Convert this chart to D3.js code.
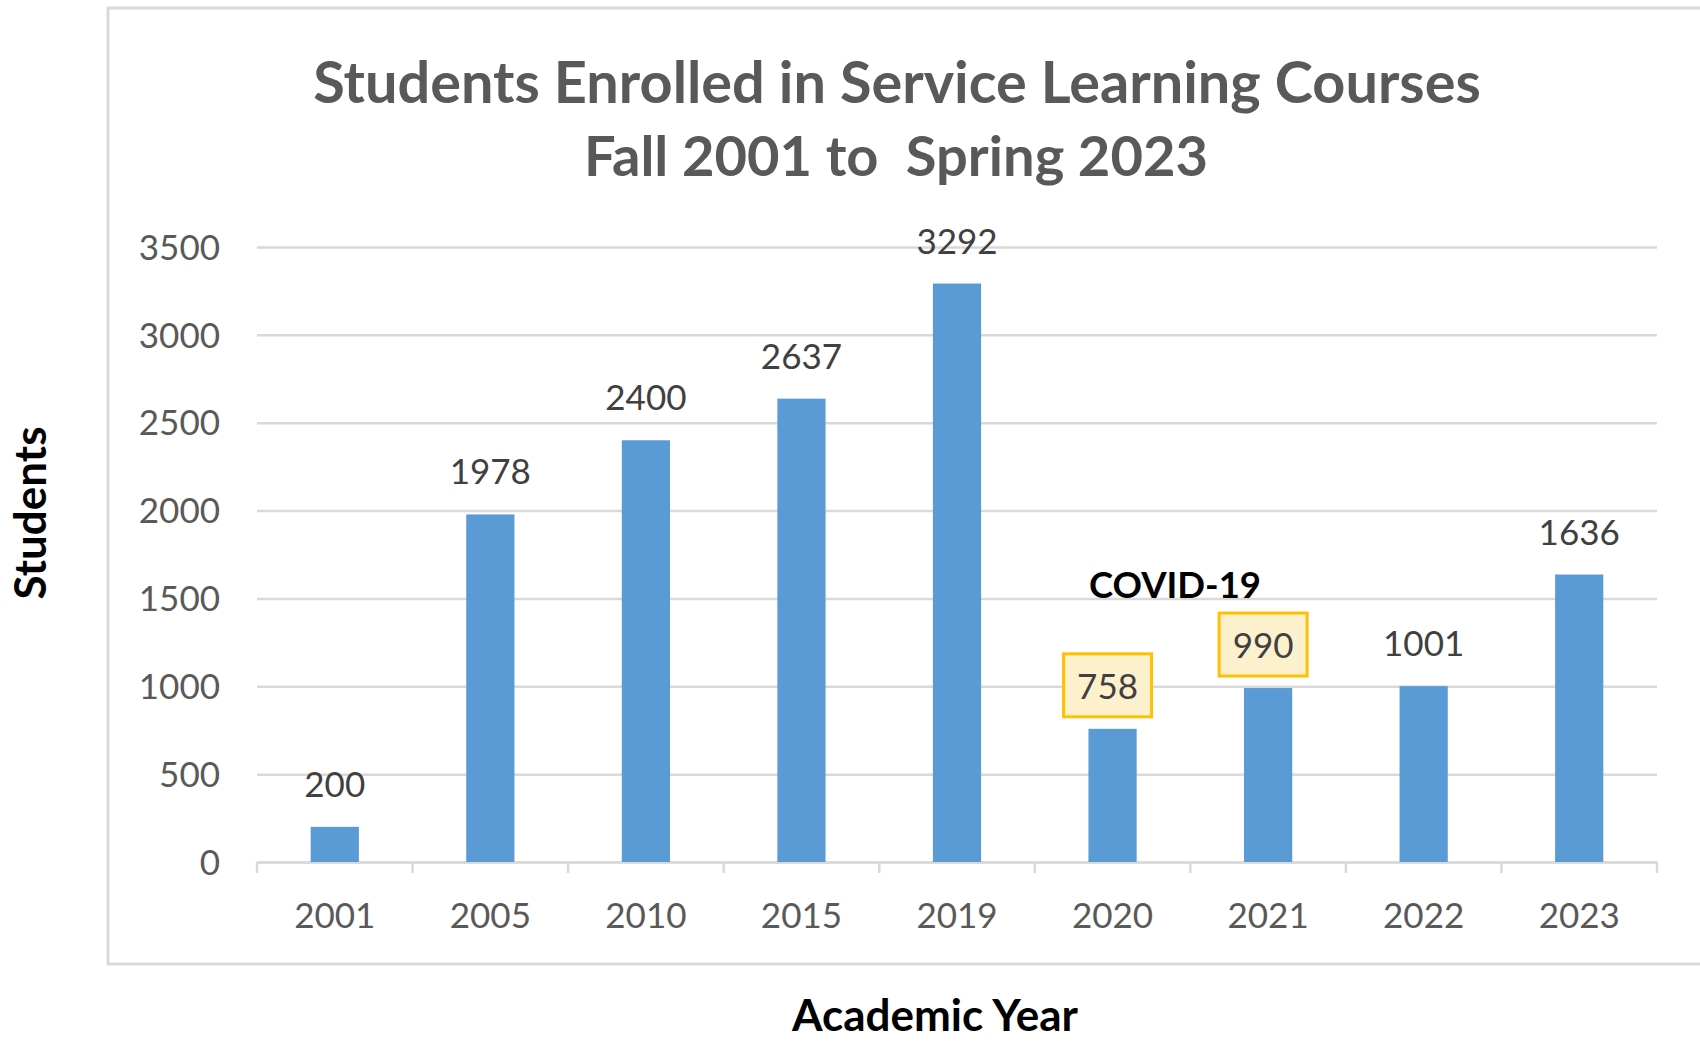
<!DOCTYPE html>
<html>
<head>
<meta charset="utf-8">
<script src="https://cdn.jsdelivr.net/npm/d3@7"></script>
<style>
  body { margin: 0; background: #fff; }
  svg { display: block; font-family: Lato, "Open Sans", sans-serif; }
</style>
</head>
<body>
<svg id="chart" width="1700" height="1043"></svg>
<script>
// chart data
var years = ['2001', '2005', '2010', '2015', '2019', '2020', '2021', '2022', '2023'];
var students = [200, 1978, 2400, 2637, 3292, 758, 990, 1001, 1636];
var yTicks = [0, 500, 1000, 1500, 2000, 2500, 3000, 3500];
var covidYears = ['2020', '2021'];

(function() {
    var data = years.map(function(y, i) { return {year: y, value: students[i]}; });

    var svg = d3.select('#chart');
    var plotLeft = 257, plotRight = 1657, plotTop = 247, plotBottom = 862;

    // outer chart frame (runs off the right edge like the source)
    svg.append('rect')
        .attr('x', 108).attr('y', 8)
        .attr('width', 1610).attr('height', 956)
        .attr('fill', 'none')
        .attr('stroke', '#d9d9d9')
        .attr('stroke-width', 3);

    var x = d3.scaleBand()
        .domain(years)
        .range([plotLeft, plotRight])
        .paddingInner(0.69)
        .paddingOuter(0.345);

    var y = d3.scaleLinear()
        .domain([0, 3500])
        .range([plotBottom, plotTop]);

    // gridlines + y labels
    var yAxis = svg.append('g')
        .attr('transform', 'translate(' + plotLeft + ',0)')
        .call(d3.axisLeft(y)
            .tickValues(yTicks)
            .tickFormat(d3.format('d'))
            .tickSize(-(plotRight - plotLeft))
            .tickPadding(37));
    yAxis.attr('font-family', null).attr('font-size', null);
    yAxis.select('.domain').remove();
    yAxis.selectAll('line').attr('stroke', '#d9d9d9').attr('stroke-width', 2.5);
    yAxis.selectAll('text')
        .attr('fill', '#595959')
        .style('font-size', '35px')
        .attr('dy', '0.35em');

    // x axis line with ticks on the category boundaries
    var xAxis = svg.append('g')
        .attr('transform', 'translate(0,' + plotBottom + ')')
        .call(d3.axisBottom(x).tickSize(0).tickPadding(41));
    xAxis.attr('font-family', null).attr('font-size', null);
    xAxis.select('.domain').attr('stroke', '#d9d9d9').attr('stroke-width', 2.5);
    xAxis.selectAll('text')
        .attr('fill', '#595959')
        .style('font-size', '35px')
        .attr('dy', '0.71em');

    var bounds = d3.range(years.length + 1).map(function(i) { return plotLeft + i * x.step(); });
    xAxis.selectAll('line.bound')
        .data(bounds)
        .enter().append('line')
        .attr('class', 'bound')
        .attr('x1', function(d) { return d; })
        .attr('x2', function(d) { return d; })
        .attr('y1', 0).attr('y2', 11)
        .attr('stroke', '#d9d9d9')
        .attr('stroke-width', 2.5);

    // bars
    svg.append('g').selectAll('rect')
        .data(data)
        .enter().append('rect')
        .attr('x', function(d) { return x(d.year); })
        .attr('y', function(d) { return y(d.value); })
        .attr('width', x.bandwidth())
        .attr('height', function(d) { return y(0) - y(d.value); })
        .attr('fill', '#5b9bd5');

    // callout boxes for the covid years
    var labels = svg.append('g');
    labels.selectAll('rect')
        .data(data.filter(function(d) { return covidYears.indexOf(d.year) >= 0; }))
        .enter().append('rect')
        .attr('x', function(d) { return x(d.year) + x.bandwidth() / 2 - 49; })
        .attr('y', function(d) { return y(d.value) - 30 - 45; })
        .attr('width', 88)
        .attr('height', 63)
        .attr('fill', '#fdf0cd')
        .attr('stroke', '#ffc000')
        .attr('stroke-width', 3);

    labels.selectAll('text')
        .data(data)
        .enter().append('text')
        .attr('x', function(d) {
            var c = x(d.year) + x.bandwidth() / 2;
            return covidYears.indexOf(d.year) >= 0 ? c - 5 : c;
        })
        .attr('y', function(d) { return y(d.value) - 30; })
        .attr('text-anchor', 'middle')
        .attr('fill', '#404040')
        .style('font-size', '35px')
        .text(function(d) { return d.value; });

    svg.append('text')
        .attr('x', 1175).attr('y', 598)
        .attr('text-anchor', 'middle')
        .attr('fill', '#000')
        .style('font-size', '36.5px')
        .style('font-weight', 'bold')
        .text('COVID-19');

    // fit a text element to a target width by adjusting font size
    function fitWidth(sel, w) {
        var cur = sel.node().getComputedTextLength();
        var fs = parseFloat(sel.style('font-size'));
        sel.style('font-size', (fs * w / cur) + 'px');
    }

    var t1 = svg.append('text')
        .attr('x', 897).attr('y', 103)
        .attr('text-anchor', 'middle')
        .attr('fill', '#595959')
        .style('font-size', '56px').style('font-weight', 'bold')
        .text('Students Enrolled in Service Learning Courses');
    fitWidth(t1, 1168);

    var t2 = svg.append('text')
        .attr('x', 896).attr('y', 176)
        .attr('text-anchor', 'middle')
        .attr('fill', '#595959')
        .style('font-size', '56px').style('font-weight', 'bold')
        .style('white-space', 'pre')
        .text('Fall 2001 to  Spring 2023');
    fitWidth(t2, 624);

    svg.append('text')
        .attr('transform', 'translate(46,513) rotate(-90)')
        .attr('text-anchor', 'middle')
        .attr('fill', '#000')
        .style('font-size', '44px').style('font-weight', 'bold')
        .text('Students');

    svg.append('text')
        .attr('x', 935).attr('y', 1031)
        .attr('text-anchor', 'middle')
        .attr('fill', '#000')
        .style('font-size', '44px').style('font-weight', 'bold')
        .text('Academic Year');
})();
</script>
</body>
</html>
